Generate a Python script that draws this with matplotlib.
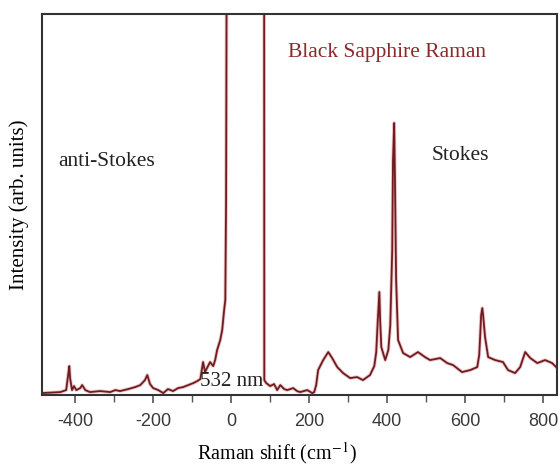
import matplotlib
matplotlib.use("Agg")
import matplotlib.pyplot as plt
from matplotlib.ticker import MultipleLocator

plt.rcParams["mathtext.fontset"] = "stix"

# Raman shift (cm^-1) and intensity (arb. units)
shift = [-485, -438, -423, -418, -415, -413, -408, -403, -397, -387, -382, -374,
         -362, -336, -310, -297, -285, -264, -246, -233, -221, -215, -208, -200,
         -187, -174, -162, -149, -136, -123, -110, -97, -87, -79, -72, -67, -62,
         -54, -46, -41, -36, -28, -23, -18, -15, -13, -8,
         84, 85, 90, 100, 110, 118, 126, 136, 144, 159, 169, 177, 195, 208, 213,
         218, 223, 236, 249, 259, 272, 287, 305, 323, 338, 356, 367, 372, 376,
         380, 382, 385, 395, 403, 408, 413, 415, 418, 420, 423, 428, 441, 459,
         479, 497, 510, 536, 554, 569, 592, 613, 631, 636, 638, 641, 644, 646,
         651, 659, 677, 697, 710, 728, 741, 754, 767, 785, 805, 823, 836]
intensity = [2, 3, 5, 20, 29, 17, 5, 9, 5, 7, 10, 5,
             3, 4, 3, 5, 4, 6, 8, 10, 15, 20, 11, 7,
             5, 2, 6, 4, 7, 8, 10, 12, 14, 16, 33, 23, 27,
             33, 29, 35, 45, 55, 65, 85, 95, 195, 1000,
             1000, 15, 12, 9, 11, 5, 10, 6, 5, 7, 4, 3, 5, 2, 3,
             10, 25, 35, 43, 37, 28, 22, 17, 18, 15, 20, 29, 43, 75,
             103, 75, 48, 35, 45, 70, 145, 235, 272, 215, 115, 55, 42, 38,
             43, 38, 35, 37, 32, 30, 23, 25, 28, 40, 55, 80, 87, 80,
             58, 38, 35, 33, 25, 22, 28, 43, 37, 32, 35, 32, 27]

xticks = [-400, -200, 0, 200, 400, 600, 800]
xticklabels = ["-400", "-200", "0", "200", "400", "600", "800"]

serif = ["Liberation Serif", "DejaVu Serif"]
line_color = "#6e1c20"

fig = plt.figure(figsize=(5.6, 4.67), dpi=100)
ax = fig.add_axes([0.075, 0.154, 0.92, 0.816])

ax.plot(shift, intensity, color="#d0585c", lw=2.6, alpha=0.35, solid_joinstyle="round")
ax.plot(shift, intensity, color=line_color, lw=1.3, solid_joinstyle="round")

ax.set_xlim(-485, 836)
ax.set_ylim(0, 381)

ax.set_xticks(xticks)
ax.set_xticklabels(xticklabels, fontfamily="Liberation Sans", fontsize=13, color="#3a3a3a")
ax.xaxis.set_minor_locator(MultipleLocator(100))
ax.tick_params(axis="x", which="major", direction="out", length=6, width=1.2, color="#555555", pad=7)
ax.tick_params(axis="x", which="minor", direction="out", length=5, width=1.0, color="#555555")
ax.set_yticks([])

for sp in ax.spines.values():
    sp.set_linewidth(1.5)
    sp.set_color("#333333")

ax.set_xlabel("Raman shift (cm$^{-1}$)", fontfamily=serif, fontsize=14.5)
ax.xaxis.set_label_coords(0.455, -0.118)
ax.set_ylabel("Intensity (arb. units)", fontfamily=serif, fontsize=15)
ax.yaxis.set_label_coords(-0.026, 0.5)

ax.text(0.478, 0.90, "Black Sapphire Raman", transform=ax.transAxes, fontfamily=serif,
        fontsize=15.5, color="#8b2a2a", va="center", ha="left")
ax.text(0.031, 0.612, "anti-Stokes", transform=ax.transAxes, fontfamily=serif,
        fontsize=15.5, color="#222222", va="center", ha="left")
ax.text(0.757, 0.63, "Stokes", transform=ax.transAxes, fontfamily=serif,
        fontsize=15.5, color="#222222", va="center", ha="left")
ax.text(-80, 14, "532 nm", fontfamily=serif, fontsize=15, color="#222222",
        va="center", ha="left")

fig.savefig("out.png", dpi=100)
